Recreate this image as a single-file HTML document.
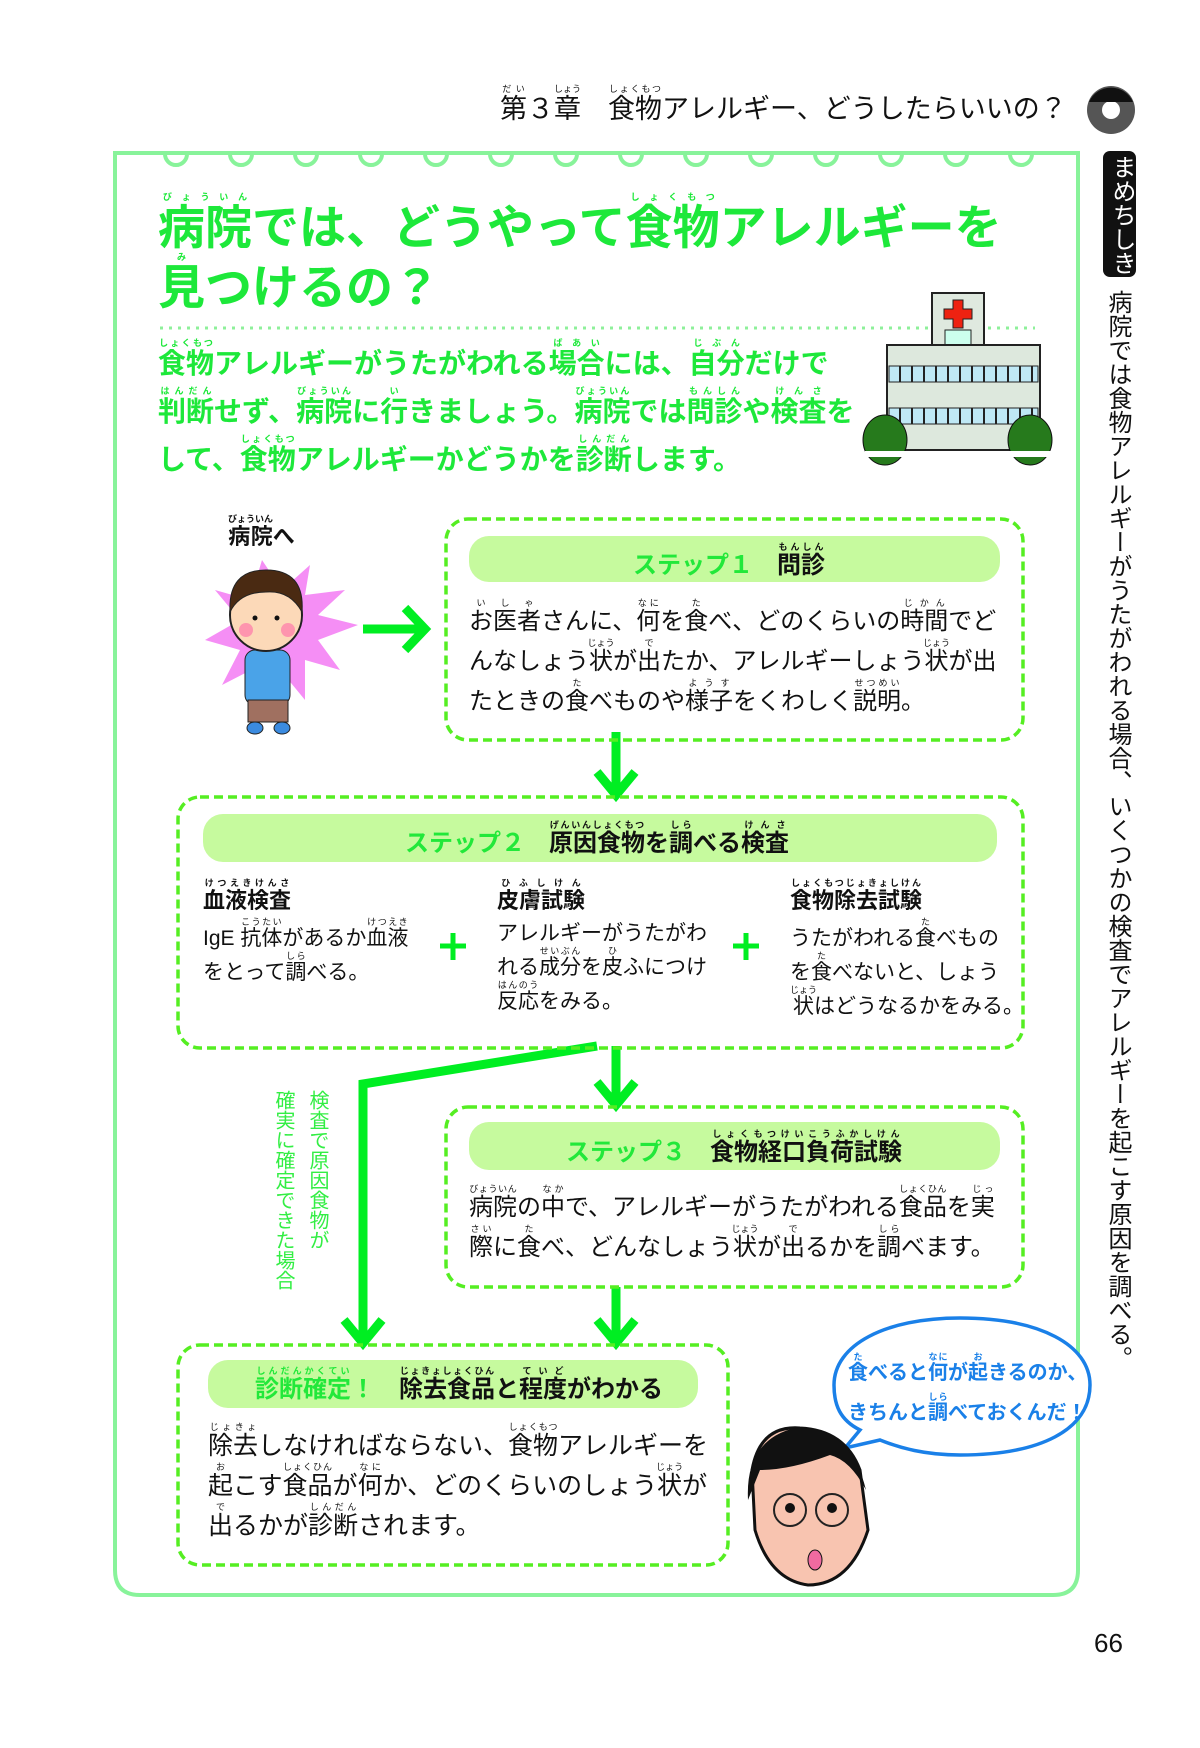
<!DOCTYPE html>
<html><head><meta charset="utf-8">
<style>
body{margin:0;background:#fff;}
#p{position:relative;width:1200px;height:1748px;overflow:hidden;font-family:"Liberation Sans","Noto Sans CJK JP",sans-serif;color:#111;}
.a{position:absolute;white-space:nowrap;}
rt{font-size:9px;}
.g{color:#1de83a;font-weight:bold;}
.t{font-size:24px;line-height:40px;}
.vt{writing-mode:vertical-rl;position:absolute;white-space:nowrap;}
</style></head><body><div id="p">
<svg width="1200" height="1748" style="position:absolute;left:0;top:0">
<circle cx="1111" cy="110" r="24" fill="#555"/><circle cx="1111" cy="110" r="9" fill="#fff"/>
<path d="M1089 102 A24 24 0 0 1 1133 102 Z" fill="#111"/>
<rect x="1103" y="151" width="33" height="126" rx="7" fill="#111"/>
<path d="M115 153 H1078 V1570 Q1078 1595 1053 1595 H140 Q115 1595 115 1570 Z" fill="none" stroke="#88f39a" stroke-width="4"/>
<g fill="none" stroke="#88f39a" stroke-width="4">
<path d="M165 154 A11 11 0 0 0 187 154"/><path d="M230 154 A11 11 0 0 0 252 154"/><path d="M295 154 A11 11 0 0 0 317 154"/><path d="M360 154 A11 11 0 0 0 382 154"/><path d="M425 154 A11 11 0 0 0 447 154"/><path d="M490 154 A11 11 0 0 0 512 154"/><path d="M555 154 A11 11 0 0 0 577 154"/><path d="M620 154 A11 11 0 0 0 642 154"/><path d="M685 154 A11 11 0 0 0 707 154"/><path d="M750 154 A11 11 0 0 0 772 154"/><path d="M815 154 A11 11 0 0 0 837 154"/><path d="M880 154 A11 11 0 0 0 902 154"/><path d="M945 154 A11 11 0 0 0 967 154"/><path d="M1010 154 A11 11 0 0 0 1032 154"/>
</g>
<line x1="160" y1="328" x2="1035" y2="328" stroke="#8ef09a" stroke-width="3" stroke-dasharray="3 6"/>
<rect x="932" y="293" width="52" height="52" fill="#dfe9df" stroke="#222" stroke-width="2"/>
<path d="M953 300h10v9h9v10h-9v9h-10v-9h-9v-10h9z" fill="#e21" stroke="#222"/>
<rect x="945" y="330" width="26" height="15" fill="#cfe" stroke="#222"/>
<rect x="887" y="345" width="153" height="105" fill="#dde8dd" stroke="#222" stroke-width="2"/>
<rect x="889" y="366" width="149" height="16" fill="#bfe8f5" stroke="#222"/>
<rect x="889" y="408" width="149" height="16" fill="#bfe8f5" stroke="#222"/>
<g stroke="#222" stroke-width="2"><path d="M900 366v16M912 366v16M924 366v16M936 366v16M948 366v16M960 366v16M972 366v16M984 366v16M996 366v16M1008 366v16M1020 366v16M1032 366v16M900 408v16M912 408v16M924 408v16M936 408v16M948 408v16M960 408v16M972 408v16M984 408v16M996 408v16M1008 408v16M1020 408v16M1032 408v16"/></g>
<ellipse cx="885" cy="440" rx="22" ry="25" fill="#267a1c" stroke="#111"/>
<ellipse cx="1030" cy="440" rx="22" ry="25" fill="#267a1c" stroke="#111"/>
<rect x="865" y="451" width="190" height="6" fill="#fff"/>
<polygon points="262,560 282,590 310,565 305,595 345,590 318,615 358,625 318,640 340,670 305,660 305,700 282,672 262,705 255,668 222,685 240,650 205,640 240,620 215,590 250,600" fill="#f58ef5"/>
<rect x="245" y="650" width="45" height="55" rx="10" fill="#4aa3e8" stroke="#222"/>
<rect x="248" y="700" width="40" height="22" fill="#a07060" stroke="#222"/>
<ellipse cx="255" cy="728" rx="8" ry="6" fill="#3b8be0" stroke="#222"/><ellipse cx="282" cy="728" rx="8" ry="6" fill="#3b8be0" stroke="#222"/>
<ellipse cx="266" cy="615" rx="36" ry="36" fill="#fcd9b8" stroke="#222" stroke-width="2"/>
<path d="M230 612 Q228 570 266 570 Q305 570 302 612 Q290 590 266 592 Q240 592 230 612Z" fill="#4a2a12" stroke="#222"/>
<circle cx="246" cy="630" r="7" fill="#f7a" opacity=".7"/><circle cx="288" cy="630" r="7" fill="#f7a" opacity=".7"/>
<circle cx="255" cy="618" r="2.5" fill="#111"/><circle cx="277" cy="618" r="2.5" fill="#111"/>
<g stroke="#00ee22" stroke-width="9" fill="none">
<path d="M363 629 H420 M405 608 L425 629 L405 650"/>
<path d="M616 732 V795 M597 772 L616 795 L635 772"/>
<path d="M616 1046 V1105 M597 1082 L616 1105 L635 1082"/>
<path d="M616 1287 V1343 M597 1320 L616 1343 L635 1320"/>
<path d="M597 1046 L363 1084 V1343 M344 1320 L363 1343 L382 1320"/>
</g>
<g fill="none" stroke="#55ee22" stroke-width="3.5" stroke-dasharray="9 5">
<rect x="446" y="519" width="577" height="221" rx="22"/>
<rect x="178" y="797" width="845" height="251" rx="22"/>
<rect x="446" y="1107" width="577" height="180" rx="22"/>
<rect x="178" y="1345" width="550" height="220" rx="22"/>
</g>
<g fill="#c6fa9e">
<rect x="469" y="536" width="531" height="46" rx="20"/>
<rect x="203" y="814" width="794" height="48" rx="20"/>
<rect x="469" y="1122" width="531" height="48" rx="20"/>
<rect x="208" y="1360" width="490" height="48" rx="20"/>
</g>
<g stroke="#00ee22" stroke-width="5"><path d="M453 933V960M440 946H466M746 933V960M733 946H759"/></g>
<path d="M960 1318 C1040 1318 1090 1345 1090 1385 C1090 1430 1040 1455 960 1455 C925 1455 900 1448 880 1440 L845 1448 L860 1430 C840 1420 834 1405 834 1385 C834 1345 885 1318 960 1318Z" fill="#fff" stroke="#1a80e8" stroke-width="3.5"/>
<path d="M752 1470 Q760 1425 800 1428 Q845 1430 860 1470 L868 1530 Q850 1585 808 1585 Q770 1580 755 1530Z" fill="#f8c4b0" stroke="#111" stroke-width="3"/>
<path d="M748 1500 Q745 1440 795 1428 Q850 1425 866 1490 Q850 1460 830 1455 Q790 1470 760 1470 Z" fill="#111"/>
<circle cx="790" cy="1510" r="16" fill="none" stroke="#222" stroke-width="2"/><circle cx="832" cy="1510" r="16" fill="none" stroke="#222" stroke-width="2"/>
<circle cx="790" cy="1508" r="5" fill="#111"/><circle cx="832" cy="1508" r="5" fill="#111"/>
<ellipse cx="815" cy="1560" rx="7" ry="10" fill="#f06aa0" stroke="#111"/>
</svg>

<div class="a" style="left:500px;top:84px;font-size:27px;line-height:34px;"><ruby>第<rt>だい</rt></ruby>３<ruby>章<rt>しょう</rt></ruby>　<ruby>食物<rt>しょくもつ</rt></ruby>アレルギー、どうしたらいいの？</div>
<div class="vt" style="left:1106px;top:155px;font-size:24px;color:#fff;line-height:30px;">まめちしき</div>
<div class="vt" style="left:1100px;top:290px;font-size:24px;line-height:34px;">病院では食物アレルギーがうたがわれる場合、いくつかの検査でアレルギーを起こす原因を調べる。</div>

<div class="a g" style="left:158px;top:192px;font-size:47px;line-height:58px;"><ruby>病院<rt>びょういん</rt></ruby>では、どうやって<ruby>食物<rt>しょくもつ</rt></ruby>アレルギーを</div>
<div class="a g" style="left:158px;top:252px;font-size:47px;line-height:58px;"><ruby>見<rt>み</rt></ruby>つけるの？</div>
<div class="a g" style="left:158px;top:338px;font-size:28px;line-height:48px;">
<ruby>食物<rt>しょくもつ</rt></ruby>アレルギーがうたがわれる<ruby>場合<rt>ばあい</rt></ruby>には、<ruby>自分<rt>じぶん</rt></ruby>だけで<br>
<ruby>判断<rt>はんだん</rt></ruby>せず、<ruby>病院<rt>びょういん</rt></ruby>に<ruby>行<rt>い</rt></ruby>きましょう。<ruby>病院<rt>びょういん</rt></ruby>では<ruby>問診<rt>もんしん</rt></ruby>や<ruby>検査<rt>けんさ</rt></ruby>を<br>
して、<ruby>食物<rt>しょくもつ</rt></ruby>アレルギーかどうかを<ruby>診断<rt>しんだん</rt></ruby>します。</div>

<div class="a" style="left:228px;top:514px;font-size:22px;font-weight:bold;line-height:36px;"><ruby>病院<rt>びょういん</rt></ruby>へ</div>

<div class="a" style="left:633px;top:542px;font-size:24px;line-height:36px;font-weight:bold;"><span style="color:#22e83a">ステップ１</span>　<ruby>問診<rt>もんしん</rt></ruby></div>
<div class="a t" style="left:469px;top:598px;"><ruby>お医者<rt>いしゃ</rt></ruby>さんに、<ruby>何<rt>なに</rt></ruby>を<ruby>食<rt>た</rt></ruby>べ、どのくらいの<ruby>時間<rt>じかん</rt></ruby>でど<br>んなしょう<ruby>状<rt>じょう</rt></ruby>が<ruby>出<rt>で</rt></ruby>たか、アレルギーしょう<ruby>状<rt>じょう</rt></ruby>が出<br>たときの<ruby>食<rt>た</rt></ruby>べものや<ruby>様子<rt>ようす</rt></ruby>をくわしく<ruby>説明<rt>せつめい</rt></ruby>。</div>

<div class="a" style="left:405px;top:820px;font-size:24px;line-height:36px;font-weight:bold;"><span style="color:#22e83a">ステップ２</span>　<ruby>原因食物<rt>げんいんしょくもつ</rt></ruby>を<ruby>調<rt>しら</rt></ruby>べる<ruby>検査<rt>けんさ</rt></ruby></div>
<div class="a" style="left:203px;top:878px;font-size:22px;font-weight:bold;line-height:34px;"><ruby>血液検査<rt>けつえきけんさ</rt></ruby></div>
<div class="a" style="left:497px;top:878px;font-size:22px;font-weight:bold;line-height:34px;"><ruby>皮膚試験<rt>ひふしけん</rt></ruby></div>
<div class="a" style="left:790px;top:878px;font-size:22px;font-weight:bold;line-height:34px;"><ruby>食物除去試験<rt>しょくもつじょきょしけん</rt></ruby></div>
<div class="a" style="left:203px;top:917px;font-size:21px;line-height:34px;">IgE <ruby>抗体<rt>こうたい</rt></ruby>があるか<ruby>血液<rt>けつえき</rt></ruby><br>をとって<ruby>調<rt>しら</rt></ruby>べる。</div>
<div class="a" style="left:497px;top:917px;font-size:21px;line-height:34px;">アレルギーがうたがわ<br>れる<ruby>成分<rt>せいぶん</rt></ruby>を<ruby>皮<rt>ひ</rt></ruby>ふにつけ<br><ruby>反応<rt>はんのう</rt></ruby>をみる。</div>
<div class="a" style="left:790px;top:917px;font-size:21px;line-height:34px;">うたがわれる<ruby>食<rt>た</rt></ruby>べもの<br>を<ruby>食<rt>た</rt></ruby>べないと、しょう<br><ruby>状<rt>じょう</rt></ruby>はどうなるかをみる。</div>

<div class="vt" style="left:266px;top:1090px;font-size:20px;line-height:34px;color:#33ee44;">検査で原因食物が<br>確実に確定できた場合</div>

<div class="a" style="left:566px;top:1129px;font-size:24px;line-height:36px;font-weight:bold;"><span style="color:#22e83a">ステップ３</span>　<ruby>食物経口負荷試験<rt>しょくもつけいこうふかしけん</rt></ruby></div>
<div class="a t" style="left:469px;top:1184px;"><ruby>病院<rt>びょういん</rt></ruby>の<ruby>中<rt>なか</rt></ruby>で、アレルギーがうたがわれる<ruby>食品<rt>しょくひん</rt></ruby>を<ruby>実<rt>じっ</rt></ruby><br><ruby>際<rt>さい</rt></ruby>に<ruby>食<rt>た</rt></ruby>べ、どんなしょう<ruby>状<rt>じょう</rt></ruby>が<ruby>出<rt>で</rt></ruby>るかを<ruby>調<rt>しら</rt></ruby>べます。</div>

<div class="a" style="left:255px;top:1366px;font-size:24px;line-height:36px;font-weight:bold;"><span style="color:#22e83a"><ruby>診断確定<rt>しんだんかくてい</rt></ruby>！</span>　<ruby>除去食品<rt>じょきょしょくひん</rt></ruby>と<ruby>程度<rt>ていど</rt></ruby>がわかる</div>
<div class="a" style="left:208px;top:1422px;font-size:25px;line-height:40px;"><ruby>除去<rt>じょきょ</rt></ruby>しなければならない、<ruby>食物<rt>しょくもつ</rt></ruby>アレルギーを<br><ruby>起<rt>お</rt></ruby>こす<ruby>食品<rt>しょくひん</rt></ruby>が<ruby>何<rt>なに</rt></ruby>か、どのくらいのしょう<ruby>状<rt>じょう</rt></ruby>が<br><ruby>出<rt>で</rt></ruby>るかが<ruby>診断<rt>しんだん</rt></ruby>されます。</div>

<div class="a" style="left:848px;top:1352px;font-size:20px;line-height:40px;color:#1a80e8;font-weight:bold;"><ruby>食<rt>た</rt></ruby>べると<ruby>何<rt>なに</rt></ruby>が<ruby>起<rt>お</rt></ruby>きるのか、<br>きちんと<ruby>調<rt>しら</rt></ruby>べておくんだ！</div>

<div class="a" style="left:1094px;top:1628px;font-size:26px;">66</div>
</div></body></html>
